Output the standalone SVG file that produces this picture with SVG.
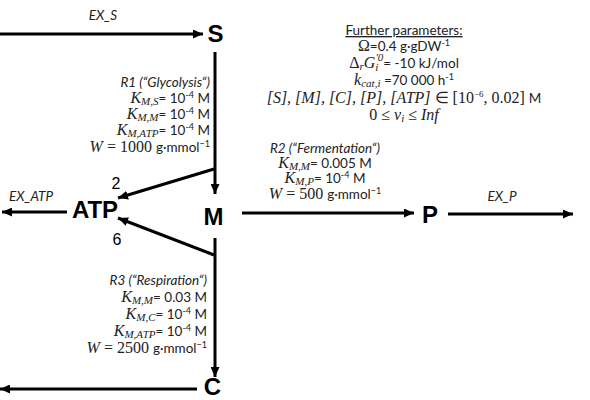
<svg xmlns="http://www.w3.org/2000/svg" width="590" height="400" viewBox="0 0 590 400">
<style>
.t{font-family:Lato,"Liberation Sans",Arial,sans-serif;font-size:13.5px;fill:#222}
.i{font-style:italic}
.m{font-family:"Liberation Serif","Times New Roman",serif;font-style:italic;font-size:16px}
.mu{font-family:"Liberation Serif","Times New Roman",serif;font-size:16px}
.ms{font-family:"Liberation Serif","Times New Roman",serif;font-style:italic;font-size:11px}
.s{font-size:9px}
.node{font-family:"Liberation Sans",Arial,sans-serif;font-weight:bold;font-size:24px;fill:#000}
.num{font-family:"Liberation Sans",Arial,sans-serif;font-size:16px;fill:#000}
.ln{stroke:#000;stroke-width:3;fill:none}
</style>
<defs>
<marker id="ah" markerUnits="userSpaceOnUse" markerWidth="10" markerHeight="9" refX="10" refY="4.5" orient="auto">
<path d="M0,0 L10,4.5 L0,9 z" fill="#000"/>
</marker>
</defs>
<rect width="590" height="400" fill="#fff"/>
<g id="connectors">
<path class="ln" d="M0 34 H203" marker-end="url(#ah)"/>
<path class="ln" d="M215 52 V194" marker-end="url(#ah)"/>
<path class="ln" d="M214 169 L118 198" marker-end="url(#ah)"/>
<path class="ln" d="M214 255 L118 218" marker-end="url(#ah)"/>
<path class="ln" d="M215 238 V377" marker-end="url(#ah)"/>
<path class="ln" d="M67 212 H2" marker-end="url(#ah)"/>
<path class="ln" d="M242 213 H414" marker-end="url(#ah)"/>
<path class="ln" d="M448 214 H573" marker-end="url(#ah)"/>
<path class="ln" d="M197 389 H0" marker-end="url(#ah)"/>
</g>
<g id="node-S"><text class="node" x="215.5" y="42" text-anchor="middle">S</text></g>
<g id="node-M"><text class="node" x="213.5" y="225" text-anchor="middle">M</text></g>
<g id="node-ATP"><text class="node" x="95" y="218" text-anchor="middle">ATP</text></g>
<g id="node-P"><text class="node" x="430" y="223" text-anchor="middle">P</text></g>
<g id="node-C"><text class="node" x="212.5" y="395" text-anchor="middle">C</text></g>
<g id="labels">
<text class="t i" x="103" y="20" text-anchor="middle">EX_S</text>
<text class="t i" x="31" y="201" text-anchor="middle">EX_ATP</text>
<text class="t i" x="502" y="201" text-anchor="middle">EX_P</text>
<text class="num" x="116" y="189" text-anchor="middle">2</text>
<text class="num" x="117" y="245" text-anchor="middle">6</text>
</g>
<g id="r1">
<text class="t i" x="210" y="87" text-anchor="end">R1 (“Glycolysis“)</text>
<text class="t" x="210" y="103" text-anchor="end"><tspan class="m">K</tspan><tspan class="ms" dy="2">M,S</tspan><tspan dy="-2">= 10</tspan><tspan class="s" dy="-5">-4</tspan><tspan dy="5"> M</tspan></text>
<text class="t" x="210" y="119" text-anchor="end"><tspan class="m">K</tspan><tspan class="ms" dy="2">M,M</tspan><tspan dy="-2">= 10</tspan><tspan class="s" dy="-5">-4</tspan><tspan dy="5"> M</tspan></text>
<text class="t" x="210" y="135" text-anchor="end"><tspan class="m">K</tspan><tspan class="ms" dy="2">M,ATP</tspan><tspan dy="-2">= 10</tspan><tspan class="s" dy="-5">-4</tspan><tspan dy="5"> M</tspan></text>
<text class="t" x="210" y="152" text-anchor="end"><tspan class="m">W</tspan><tspan class="mu"> = 1000 </tspan>g·mmol<tspan class="s" dy="-5">−1</tspan></text>
</g>
<g id="r2">
<text class="t i" x="325" y="153" text-anchor="middle">R2 (“Fermentation“)</text>
<text class="t" x="325" y="168" text-anchor="middle"><tspan class="m">K</tspan><tspan class="ms" dy="2">M,M</tspan><tspan dy="-2">= 0.005 M</tspan></text>
<text class="t" x="325" y="183" text-anchor="middle"><tspan class="m">K</tspan><tspan class="ms" dy="2">M,P</tspan><tspan dy="-2">= 10</tspan><tspan class="s" dy="-5">-4</tspan><tspan dy="5"> M</tspan></text>
<text class="t" x="325" y="199" text-anchor="middle"><tspan class="m">W</tspan><tspan class="mu"> = 500 </tspan>g·mmol<tspan class="s" dy="-5">−1</tspan></text>
</g>
<g id="r3">
<text class="t i" x="207" y="285" text-anchor="end">R3 (“Respiration“)</text>
<text class="t" x="207" y="302" text-anchor="end"><tspan class="m">K</tspan><tspan class="ms" dy="2">M,M</tspan><tspan dy="-2">= 0.03 M</tspan></text>
<text class="t" x="207" y="319" text-anchor="end"><tspan class="m">K</tspan><tspan class="ms" dy="2">M,C</tspan><tspan dy="-2">= 10</tspan><tspan class="s" dy="-5">-4</tspan><tspan dy="5"> M</tspan></text>
<text class="t" x="207" y="336" text-anchor="end"><tspan class="m">K</tspan><tspan class="ms" dy="2">M,ATP</tspan><tspan dy="-2">= 10</tspan><tspan class="s" dy="-5">-4</tspan><tspan dy="5"> M</tspan></text>
<text class="t" x="207" y="353" text-anchor="end"><tspan class="m">W</tspan><tspan class="mu"> = 2500 </tspan>g·mmol<tspan class="s" dy="-5">−1</tspan></text>
</g>
<g id="params">
<text class="t" x="404" y="35" text-anchor="middle" text-decoration="underline">Further parameters:</text>
<text class="t" x="404" y="51" text-anchor="middle"><tspan class="mu">Ω</tspan>=0.4 g·gDW<tspan class="s" dy="-5">-1</tspan></text>
<text class="t" x="404" y="68" text-anchor="middle"><tspan class="mu">Δ</tspan><tspan class="ms" dy="2">r</tspan><tspan class="m" dy="-2">G</tspan><tspan class="ms" dy="3">i</tspan><tspan class="ms" dx="-3" dy="-10" font-style="normal">′0</tspan><tspan dy="7">= -10 kJ/mol</tspan></text>
<text class="t" x="404" y="85" text-anchor="middle"><tspan class="m">k</tspan><tspan class="ms" dy="2">cat,i</tspan><tspan dy="-2"> =70 000 h</tspan><tspan class="s" dy="-5">-1</tspan></text>
<text class="t" x="404" y="103" text-anchor="middle"><tspan class="m" font-size="14.5">[S], [M], [C], [P], [ATP] </tspan><tspan class="mu" font-size="14.5">∈ [10</tspan><tspan class="mu s" dy="-6">−6</tspan><tspan class="mu" font-size="14.5" dy="6">, 0.02] </tspan>M</text>
<text class="t" x="404" y="120" text-anchor="middle"><tspan class="mu">0 ≤ </tspan><tspan class="m">v</tspan><tspan class="ms" dy="2">i</tspan><tspan class="mu" dy="-2"> ≤ </tspan><tspan class="m">Inf</tspan></text>
</g>
</svg>
